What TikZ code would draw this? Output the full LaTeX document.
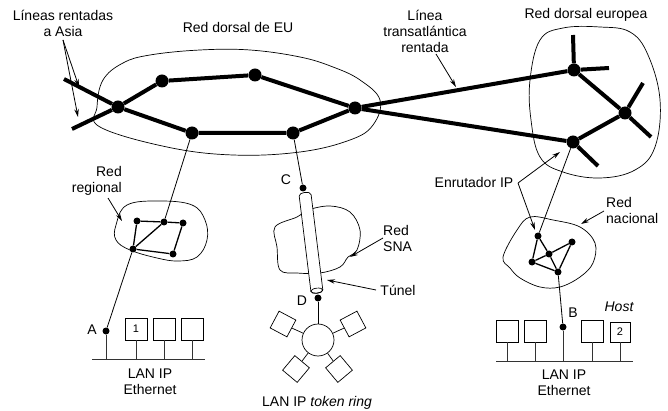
\documentclass[tikz,border=0pt]{standalone}
\usepackage{fontspec}
\setmainfont{Liberation Sans}
\usetikzlibrary{arrows.meta}
\begin{document}
\begin{tikzpicture}[x=1pt,y=-1pt,
  txt/.style={font=\fontsize{14}{16}\selectfont, inner sep=0pt, align=center},
  bb/.style={line width=4pt},
  bdot/.style={circle, fill, inner sep=0pt, minimum size=13pt},
  sdot/.style={circle, fill, inner sep=0pt, minimum size=7pt},
  lnk/.style={line width=1.3pt},
  thinln/.style={line width=0.8pt},
  blob/.style={line width=0.7pt},
  arr/.style={line width=0.8pt, -{Stealth[length=8pt,width=4.5pt]}},
  host/.style={draw, line width=0.7pt, minimum size=22pt, inner sep=0pt, font=\fontsize{11}{13}\selectfont},
  rbox/.style={draw, line width=0.7pt, fill=white, minimum size=19pt, inner sep=0pt},
]
\useasboundingbox (0,0) rectangle (668,411);

% ---------- outlines ----------
\draw[blob] plot[smooth cycle, tension=0.65] coordinates {(97,107) (103,80) (123,63) (150,55) (200,50) (250,50) (300,57) (333,67) (360,80) (380,100) (373,125) (350,140) (300,152) (233,155) (167,147) (100,127)};
\draw[blob] plot[smooth cycle, tension=0.65] coordinates {(530,80) (540,40) (563,28) (600,27) (630,32) (648,55) (660,100) (655,147) (635,170) (600,178) (563,172) (540,157) (531,120)};
\draw[blob] plot[smooth cycle, tension=0.65] coordinates {(116,225) (127,205) (160,201) (192,205) (205,220) (207,240) (197,257) (178,261) (157,258) (130,250) (116,240)};
\draw[blob] plot[smooth cycle, tension=0.6] coordinates {(275,227) (297,217) (308,210) (330,206) (350,212) (360,230) (357,250) (348,257) (340,267) (320,273) (297,273) (280,270) (277,247)};
\draw[blob] plot[smooth cycle, tension=0.6] coordinates {(503,257) (517,230) (530,217) (553,220) (580,227) (595,243) (593,263) (580,277) (560,287) (540,287) (520,278) (510,268)};

% ---------- backbone nodes ----------
\node[bdot] (n1) at (118,107) {};
\node[bdot] (n2) at (162,81) {};
\node[bdot] (n3) at (255,75) {};
\node[bdot] (n4) at (355,108) {};
\node[bdot] (n5) at (192,133) {};
\node[bdot] (n6) at (293,133) {};
\coordinate (asia1) at (64,79);
\coordinate (asia2) at (72,129);
\node[bdot] (E1) at (574,70) {};
\node[bdot] (E3) at (625,113) {};
\node[bdot] (E2) at (573,142) {};
\coordinate (e1a) at (573,35);
\coordinate (e1b) at (609,68);
\coordinate (e3a) at (643,83);
\coordinate (e3b) at (651,137);
\coordinate (e2a) at (598,166);

\draw[bb] (asia1) -- (n1) -- (n5) -- (n6) -- (n4) -- (n3) -- (n2) -- (n1) -- (asia2);
\draw[bb] (n4) -- (E1) -- (E3) -- (E2) -- (n4);
\draw[bb] (E1) -- (e1a) (E1) -- (e1b) (E3) -- (e3a) (E3) -- (e3b) (E2) -- (e2a);

% ---------- regional network ----------
\node[sdot] (Ra) at (137,221) {};
\node[sdot] (Rb) at (164,222) {};
\node[sdot] (Rc) at (183,223) {};
\node[sdot] (Rd) at (173,254) {};
\node[sdot] (Re) at (133,249) {};
\draw[lnk] (Ra) -- (Rb) -- (Rc) -- (Rd) -- (Re) -- (Ra);
\draw[lnk] (Re) -- (Rb);
\draw[thinln] (n5) -- (Rb);

% ---------- national network ----------
\node[sdot] (N1) at (538,236) {};
\node[sdot] (N2) at (572,242) {};
\node[sdot] (N3) at (549,254) {};
\node[sdot] (N4) at (532,262) {};
\node[sdot] (N5) at (558,272) {};
\draw[lnk] (N1) -- (N4) -- (N5) -- (N2) -- (N3) -- (N1);
\draw[lnk] (N4) -- (N3) -- (N5);
\draw[thinln] (E2) -- (N1);

% ---------- endpoints ----------
\node[sdot] (A) at (106,331) {};
\node[sdot] (B) at (563,327) {};
\node[sdot] (C) at (303,188) {};
\node[sdot] (D) at (318,298) {};
\draw[thinln] (Re) -- (A);
\draw[thinln] (N5) -- (B);
\draw[thinln] (n6) -- (C);

% ---------- tunnel ----------
\begin{scope}[shift={(311,243)}, rotate=7]
  \draw[line width=0.7pt, fill=white] (-6,48) -- (-6,-48) .. controls (-6,-52) and (6,-52) .. (6,-48) -- (6,48) .. controls (6,51.4) and (-6,51.4) .. (-6,48) -- cycle;
  \draw[line width=0.7pt] (0,48) ellipse [x radius=6pt, y radius=2.5pt];
\end{scope}

% ---------- Ethernet A ----------
\coordinate (busAl) at (92,359);
\coordinate (busAr) at (205,359);
\draw[thinln, black!80] (busAl) -- (busAr);
\node[host] (h1) at (136,329) {1};
\node[host] (h2) at (164,329) {};
\node[host] (h3) at (192,329) {};
\foreach \h in {h1,h2,h3} \draw[thinln, black!80] (\h.south) -- (\h.south |- busAl);
\draw[thinln, black!80] (A) -- (A |- busAl);

% ---------- Ethernet B ----------
\coordinate (busBl) at (496,361);
\coordinate (busBr) at (633,361);
\draw[thinln, black!80] (busBl) -- (busBr);
\node[host] (h4) at (507,331) {};
\node[host] (h5) at (535,331) {};
\node[host] (h6) at (592,331) {};
\node[host, minimum size=20pt] (h7) at (620,332) {2};
\foreach \h in {h4,h5,h6,h7} \draw[thinln, black!80] (\h.south) -- (\h.south |- busBl);
\draw[thinln, black!80] (B) -- (B |- busBl);

% ---------- token ring ----------
\node[circle, draw, line width=0.7pt, fill=white, minimum size=32pt, inner sep=0pt] (ring) at (318,340) {};
\node[rbox, rotate=-28] (t1) at (283,324) {};
\node[rbox, rotate=28] (t2) at (353,324) {};
\node[rbox, rotate=50] (t3) at (296,369) {};
\node[rbox, rotate=-50] (t4) at (339,369) {};
\foreach \t in {t1,t2,t3,t4} \draw[line width=0.7pt] (ring) -- (\t);
\draw[thinln] (D) -- (ring);

% ---------- labels ----------
\node[txt] (lasia) at (63,23) {Líneas rentadas\\a Asia};
\node[txt] (ldus) at (238,28) {Red dorsal de EU};
\node[txt] (ltrans) at (425,31) {Línea\\transatlántica\\rentada};
\node[txt] (leu) at (586,15) {Red dorsal europea};
\node[txt] (lrouter) at (474,182) {Enrutador IP};
\node[txt, align=left, anchor=west] (lnac) at (606,210) {Red\\nacional};
\node[txt, align=right, anchor=east] (lreg) at (122,181) {Red\\regional};
\node[txt, align=left, anchor=west] (lsna) at (383,238) {Red\\SNA};
\node[txt] (ltun) at (398,290) {Túnel};
\node[txt] (lA) at (92,330) {A};
\node[txt] (lB) at (573,313) {B};
\node[txt] (lC) at (286,180) {C};
\node[txt] (lD) at (302,301) {D};
\node[txt] (lhost) at (619,307) {\itshape Host};
\node[txt] (leth1) at (150,382) {LAN IP\\Ethernet};
\node[txt] (leth2) at (564,383) {LAN IP\\Ethernet};
\node[txt] (lring) at (317,403) {LAN IP \itshape token ring};

% ---------- arrows ----------
\coordinate (asiaS) at (63,40);
\coordinate (asiaT1) at (79,87);
\coordinate (asiaT2) at (78,117);
\draw[arr] (asiaS) -- (asiaT1);
\draw[arr] (asiaS) -- (asiaT2);
\coordinate (transS) at (436,54);
\coordinate (transT) at (456,87);
\draw[arr] (transS) -- (transT);
\coordinate (rtS) at (518,183);
\coordinate (rtT1) at (560,152);
\coordinate (rtT2) at (535,230);
\draw[arr] (rtS) -- (rtT1);
\draw[arr] (rtS) -- (rtT2);
\coordinate (nacS) at (604,211);
\coordinate (nacT) at (581,224);
\draw[arr] (nacS) -- (nacT);
\coordinate (regS) at (108,198);
\coordinate (regT) at (122,221);
\draw[arr] (regS) -- (regT);
\coordinate (snaS) at (383,238);
\coordinate (snaT) at (350,257);
\draw[arr] (snaS) -- (snaT);
\coordinate (tunS) at (376,290);
\coordinate (tunT) at (327,280);
\draw[arr] (tunS) -- (tunT);
\end{tikzpicture}
\end{document}
